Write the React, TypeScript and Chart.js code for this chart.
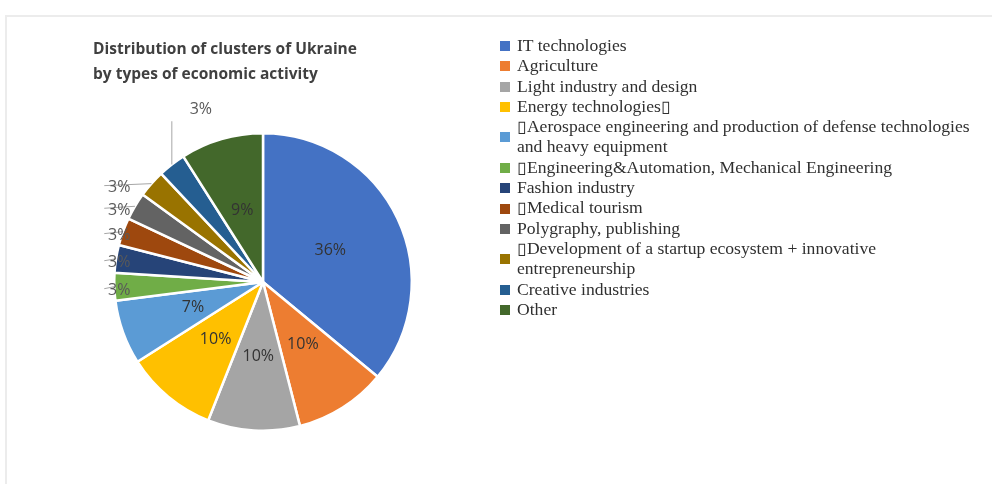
import React, { useEffect, useRef } from "react";
import { Chart, registerables } from "chart.js";

Chart.register(...registerables);

const categories: string[] = [
  "IT technologies",
  "Agriculture",
  "Light industry and design",
  "Energy technologies\u25AF",
  "\u25AFAerospace engineering and production of defense technologies and heavy equipment",
  "\u25AFEngineering&Automation, Mechanical Engineering",
  "Fashion industry",
  "\u25AFMedical tourism",
  "Polygraphy, publishing",
  "\u25AFDevelopment of a startup ecosystem + innovative entrepreneurship",
  "Creative industries",
  "Other",
];

const shares: number[] = [36, 10, 10, 10, 7, 3, 3, 3, 3, 3, 3, 9];

const sliceColors: string[] = [
  "#4472C4",
  "#ED7D31",
  "#A5A5A5",
  "#FFC000",
  "#5B9BD5",
  "#70AD47",
  "#264478",
  "#9E480E",
  "#636363",
  "#997300",
  "#255E91",
  "#43682B",
];

const titleLines: string[] = [
  "Distribution of clusters of Ukraine",
  "by types of economic activity",
];

const labelPlugin = {
  id: "sliceLabels",
  afterDatasetsDraw(chart: any) {
    const ctx = chart.ctx;
    const meta = chart.getDatasetMeta(0);
    const values = chart.data.datasets[0].data as number[];
    ctx.save();
    ctx.textAlign = "center";
    ctx.textBaseline = "middle";
    meta.data.forEach((arc: any, i: number) => {
      const p = arc.getProps(["x", "y", "startAngle", "endAngle", "outerRadius"], true);
      const mid = (p.startAngle + p.endAngle) / 2;
      const R = p.outerRadius;
      const txt = `${values[i]}%`;
      ctx.font = '16px "Open Sans", "Liberation Sans", sans-serif';
      if (values[i] >= 5) {
        const r = R * 0.5;
        ctx.fillStyle = "#333333";
        ctx.fillText(txt, p.x + Math.cos(mid) * r, p.y + Math.sin(mid) * r);
      } else {
        const ex = p.x + Math.cos(mid) * R;
        const ey = p.y + Math.sin(mid) * R;
        ctx.strokeStyle = "#A6A6A6";
        ctx.lineWidth = 1;
        ctx.fillStyle = "#595959";
        if (ey > p.y - R * 0.7) {
          const lx = p.x - R + 5;
          const ly = ey + 3;
          ctx.beginPath();
          ctx.moveTo(ex, ey);
          ctx.lineTo(lx - 15, ly - 1);
          ctx.stroke();
          ctx.fillText(txt, lx, ly + 1);
        } else {
          const ty = p.y - R - 24;
          ctx.beginPath();
          ctx.moveTo(ex, ey);
          ctx.lineTo(ex, p.y - R - 12);
          ctx.stroke();
          ctx.fillText(txt, ex + 29, ty);
        }
      }
    });
    ctx.restore();
  },
};

export default function App() {
  const ref = useRef<HTMLCanvasElement | null>(null);

  useEffect(() => {
    if (!ref.current) return;
    const chart = new Chart(ref.current, {
      type: "pie",
      data: {
        labels: categories,
        datasets: [
          {
            data: shares,
            backgroundColor: sliceColors,
            borderColor: "#ffffff",
            borderWidth: 2.5,
          },
        ],
      },
      options: {
        animation: false,
        responsive: false,
        maintainAspectRatio: false,
        layout: { padding: { left: 113, right: 579, top: 132, bottom: 52 } },
        plugins: {
          legend: { display: false },
          tooltip: { enabled: false },
          title: { display: false },
        },
      },
      plugins: [labelPlugin],
    });
    return () => chart.destroy();
  }, []);

  return (
    <div style={{ position: "fixed", left: 0, top: 0, width: 992, height: 484, background: "#fff", overflow: "hidden" }}>
      <div
        style={{
          position: "absolute",
          left: 5,
          top: 15,
          width: 1100,
          height: 600,
          border: "2px solid #ececec",
        }}
      />
      <canvas ref={ref} width={992} height={484} style={{ position: "absolute", left: 0, top: 0, width: 992, height: 484 }} />
      <div
        style={{
          position: "absolute",
          left: 93,
          top: 36,
          font: 'bold 15.5px "Open Sans", "Liberation Sans", sans-serif',
          lineHeight: "25px",
          color: "#404040",
          whiteSpace: "nowrap",
        }}
      >
        {titleLines.map((t) => (
          <div key={t}>{t}</div>
        ))}
      </div>
      <div
        style={{
          position: "absolute",
          left: 500,
          top: 36,
          width: 480,
          font: '16px "Liberation Serif", "Times New Roman", serif',
          lineHeight: "20.3px",
          color: "#303030",
        }}
      >
        {categories.map((c, i) => (
          <div key={c} style={{ display: "flex", alignItems: "center" }}>
            <div style={{ width: 10, height: 10, background: sliceColors[i], flex: "none", marginRight: 7 }} />
            <div style={{ width: 422, transform: "scaleX(1.1)", transformOrigin: "left center" }}>{c}</div>
          </div>
        ))}
      </div>
    </div>
  );
}
